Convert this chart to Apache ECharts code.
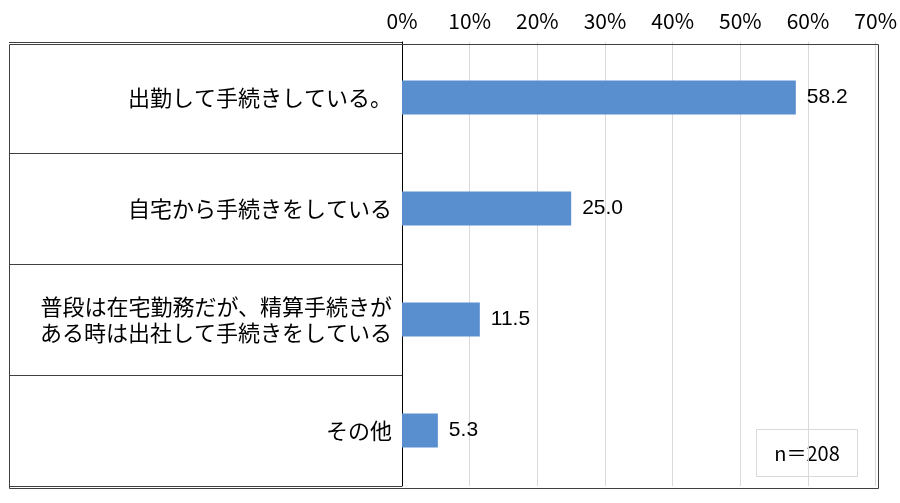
<!DOCTYPE html>
<html>
<head>
<meta charset="utf-8">
<script src="https://cdn.jsdelivr.net/npm/echarts@6/dist/echarts.min.js"></script>
<style>
  html, body { margin: 0; padding: 0; background: #fff; }
  #main { width: 900px; height: 503px; }
</style>
</head>
<body>
<div id="main"></div>
<script>
// 回答項目と割合(%)
var categories = [
  '出勤して手続きしている。',
  '自宅から手続きをしている',
  '普段は在宅勤務だが、精算手続きが\nある時は出社して手続きをしている',
  'その他'
];
var values = [58.2, 25.0, 11.5, 5.3];
var sampleNote = 'n＝208';

var FONT = '"Noto Sans CJK JP", "Noto Sans", sans-serif';
var NUM_FONT = '"Liberation Sans", Arial, sans-serif';

var chart = echarts.init(document.getElementById('main'));

chart.setOption({
  animation: false,
  grid: {
    left: 402,
    right: 24,
    top: 42,
    bottom: 17,
    containLabel: false
  },
  xAxis: {
    type: 'value',
    position: 'top',
    min: 0,
    max: 70,
    interval: 10,
    axisLine: { show: false },
    axisTick: { show: false },
    axisLabel: {
      margin: 10,
      fontSize: 21,
      color: '#000',
      fontFamily: FONT,
      formatter: '{value}%'
    },
    splitLine: { show: true, lineStyle: { color: '#d9d9d9', width: 1 } }
  },
  yAxis: {
    type: 'category',
    data: categories,
    inverse: true,
    axisLine: { show: true, lineStyle: { color: '#000', width: 1 } },
    // 区切り線は目盛りを左へ伸ばして描く
    axisTick: {
      show: true,
      length: 393,
      lineStyle: { color: '#404040', width: 1 }
    },
    axisLabel: {
      margin: 10,
      fontSize: 22,
      lineHeight: 26,
      color: '#000',
      align: 'right',
      fontFamily: FONT
    }
  },
  series: [
    {
      type: 'bar',
      data: values,
      barWidth: 34,
      itemStyle: { color: '#5a8fcf' },
      label: {
        show: true,
        position: 'right',
        distance: 11,
        fontSize: 21,
        color: '#000',
        fontFamily: NUM_FONT,
        formatter: function (p) { return p.value.toFixed(1); }
      }
    }
  ],
  graphic: [
    {
      type: 'rect',
      left: 7,
      top: 42,
      z: 50,
      shape: { width: 869, height: 444 },
      style: { fill: 'none', stroke: '#404040', lineWidth: 1 }
    },
    {
      type: 'group',
      right: 42,
      bottom: 26,
      z: 60,
      children: [
        {
          type: 'rect',
          shape: { width: 101, height: 47 },
          style: { fill: '#fff', stroke: '#d9d9d9', lineWidth: 1 }
        },
        {
          type: 'text',
          x: 50.5,
          y: 23.5,
          style: {
            text: sampleNote,
            fontSize: 20,
            fontFamily: FONT,
            fill: '#000',
            align: 'center',
            verticalAlign: 'middle'
          }
        }
      ]
    }
  ]
});
</script>
</body>
</html>
